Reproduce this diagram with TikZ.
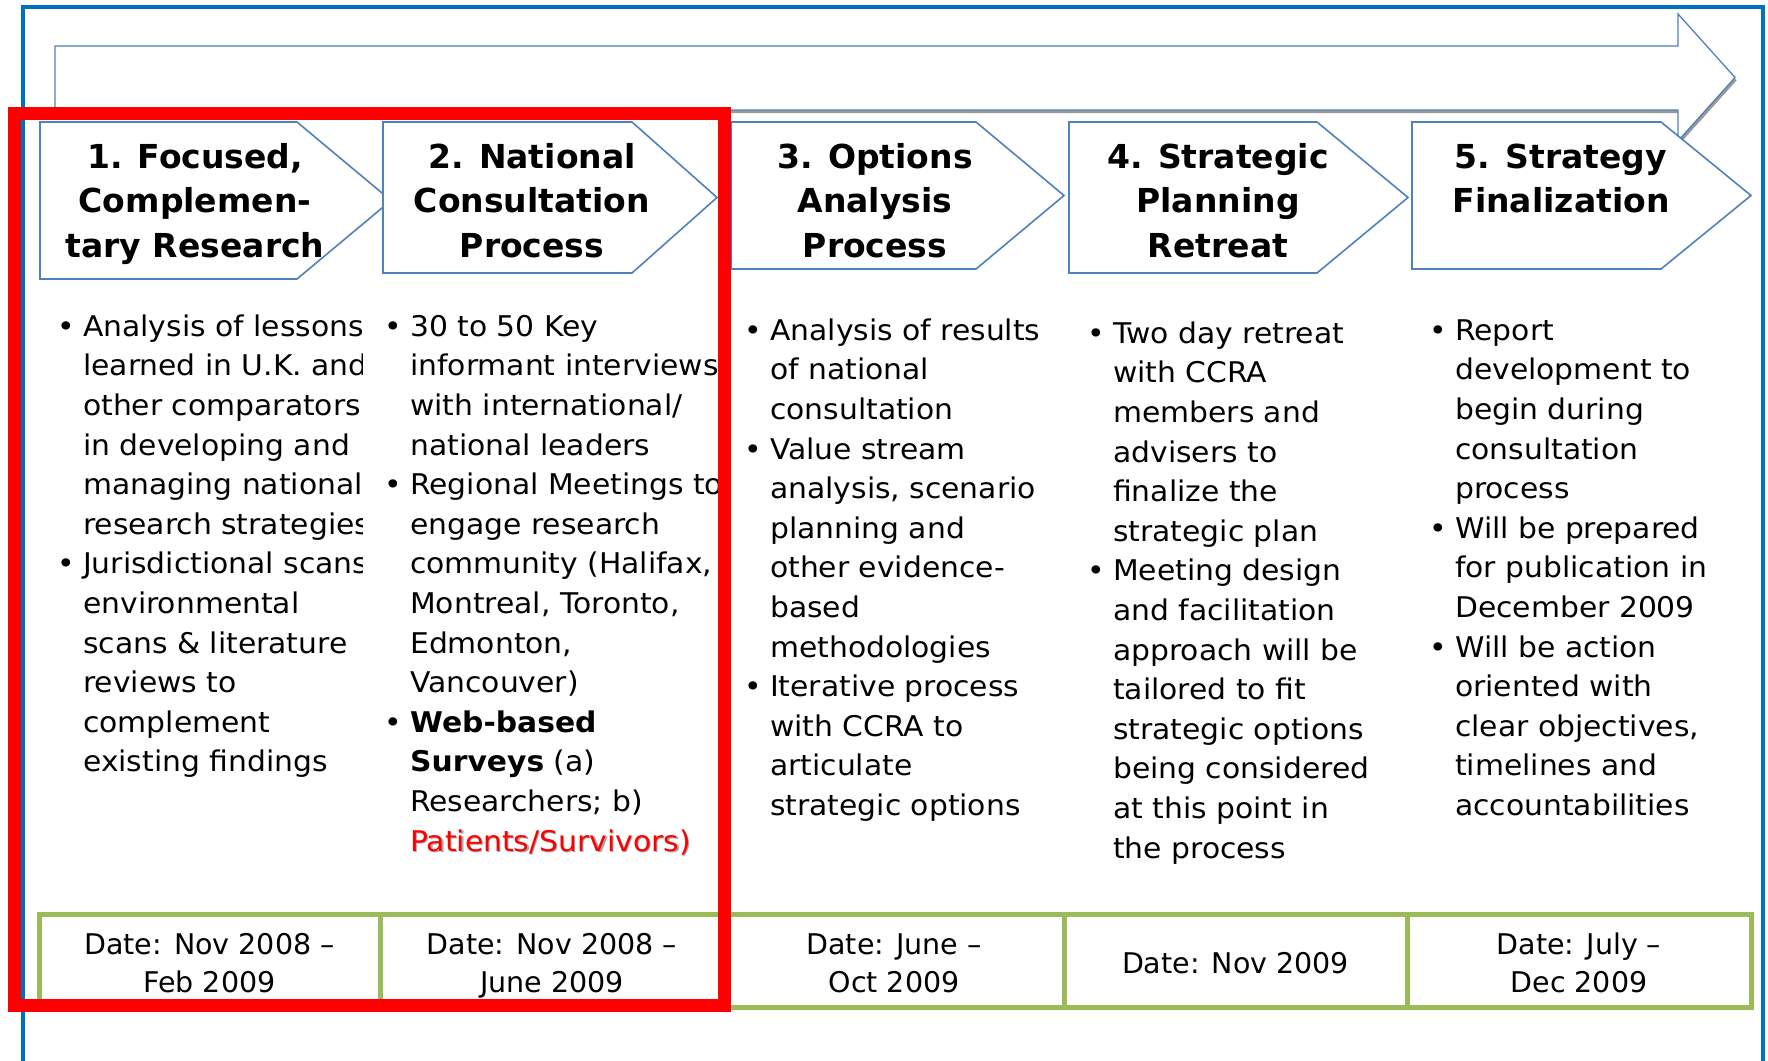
\documentclass[tikz,border=0pt]{standalone}
\usepackage{fontspec}
\setmainfont{DejaVu Sans}
\newfontfamily\bodyfont{DejaVu Sans}[FakeStretch=1.045]
\definecolor{frameblue}{RGB}{0,112,192}
\definecolor{chevblue}{RGB}{79,129,189}
\definecolor{dgreen}{RGB}{155,187,89}
\newcommand{\bul}{\makebox[23pt][l]{\hspace{-3pt}•}}
\newcommand{\ind}{\hspace*{23pt}}
\newcommand{\fst}{\rule{0pt}{24pt}}
\newcommand{\tst}{\rule{0pt}{27pt}}
\newcommand{\dsa}{\rule[-6pt]{0pt}{36.6pt}}
\newcommand{\dst}{\rule[-6pt]{0pt}{32pt}}
\newcommand{\shd}[1]{\makebox[0pt][l]{\hspace{1.5pt}\raisebox{-1.5pt}{\textcolor{black!35}{#1}}}\textcolor{red}{#1}}
\tikzset{
  chev/.style={draw=chevblue, fill=white, line width=1.6pt},
  ttl/.style={font=\fontsize{33}{44.5}\selectfont\bfseries, align=center, inner sep=0pt, anchor=north},
  body/.style={font=\bodyfont\fontsize{28.5}{39.6}\selectfont, align=left, inner sep=0pt, anchor=north west},
  datebox/.style={draw=dgreen, line width=5pt, fill=white, minimum height=93pt, align=center,
    font=\fontsize{28.5}{38.3}\selectfont, inner sep=0pt},
}
\begin{document}
\begin{tikzpicture}[x=1pt,y=-1pt]
\useasboundingbox (0,0) rectangle (1768,1060);
\clip (0,0) rectangle (1768,1060);
\fill[white] (0,0) rectangle (1768,1060);
% outer frame
\draw[frameblue, line width=4.5pt] (23,7) rectangle (1763,1100);
% big arrow (shadow + arrow)
\fill[black!40] ([shift={(1.5,3)}]55,46) -- ++(1623,0) -- ++(0,-32) -- ++(57,63.5) -- ++(-57,63.5) -- ++(0,-31) -- ++(-1623,0) -- cycle;
\path[draw=chevblue, fill=white, line width=1.3pt] (55,46) -- (1678,46) -- (1678,14) -- (1735,77.5) -- (1678,141) -- (1678,110) -- (55,110) -- cycle;
% chevrons
\draw[chev] (40,122) -- (297,122) -- (391,200.5) -- (297,279) -- (40,279) -- cycle;
\draw[chev] (383,122) -- (632,122) -- (717,197.5) -- (632,273) -- (383,273) -- cycle;
\draw[chev] (731,122) -- (976,122) -- (1064,195.5) -- (976,269) -- (731,269) -- cycle;
\draw[chev] (1069,122) -- (1317,122) -- (1408,197.5) -- (1317,273) -- (1069,273) -- cycle;
\draw[chev] (1412,122) -- (1661,122) -- (1751,195.5) -- (1661,269) -- (1412,269) -- cycle;
% titles
\node[ttl] (t1) at (195,141) {\tst 1. Focused,\\Complemen-\\tary Research};
\node[ttl] (t2) at (532,141) {\tst 2. National\\Consultation\\Process};
\node[ttl] (t3) at (875,141) {\tst 3. Options\\Analysis\\Process};
\node[ttl] (t4) at (1218,141) {\tst 4. Strategic\\Planning\\Retreat};
\node[ttl] (t5) at (1561,141) {\tst 5. Strategy\\Finalization};
% body text
\begin{scope}
\clip (40,290) rectangle (362,820);
\node[body] (b1) at (60,312) {\fst\bul Analysis of lessons\\
\ind learned in U.K. and\\
\ind other comparators\\
\ind in developing and\\
\ind managing national\\
\ind research strategies\\
\bul Jurisdictional scans,\\
\ind environmental\\
\ind scans \& literature\\
\ind reviews to\\
\ind complement\\
\ind existing findings};
\end{scope}
\begin{scope}
\clip (362,290) rectangle (724,900);
\node[body] (b2) at (387,312) {\fst\bul 30 to 50 Key\\
\ind informant interviews\\
\ind with international/\\
\ind national leaders\\
\bul Regional Meetings to\\
\ind engage research\\
\ind community (Halifax,\\
\ind Montreal, Toronto,\\
\ind Edmonton,\\
\ind Vancouver)\\
\bul \textbf{Web-based}\\
\ind \textbf{Surveys} (a)\\
\ind Researchers; b)\\
\ind \shd{Patients/Survivors)}};
\end{scope}
\node[body] (b3) at (747,316) {\fst\bul Analysis of results\\
\ind of national\\
\ind consultation\\
\bul Value stream\\
\ind analysis, scenario\\
\ind planning and\\
\ind other evidence-\\
\ind based\\
\ind methodologies\\
\bul Iterative process\\
\ind with CCRA to\\
\ind articulate\\
\ind strategic options};
\node[body] (b4) at (1090,319) {\fst\bul Two day retreat\\
\ind with CCRA\\
\ind members and\\
\ind advisers to\\
\ind finalize the\\
\ind strategic plan\\
\bul Meeting design\\
\ind and facilitation\\
\ind approach will be\\
\ind tailored to fit\\
\ind strategic options\\
\ind being considered\\
\ind at this point in\\
\ind the process};
\node[body] (b5) at (1432,316) {\fst\bul Report\\
\ind development to\\
\ind begin during\\
\ind consultation\\
\ind process\\
\bul Will be prepared\\
\ind for publication in\\
\ind December 2009\\
\bul Will be action\\
\ind oriented with\\
\ind clear objectives,\\
\ind timelines and\\
\ind accountabilities};
% date boxes
\node[datebox, minimum width=341pt] (d1) at (209.5,961) {\dsa Date: Nov 2008 –\\\dst Feb 2009};
\node[datebox, minimum width=344pt] (d2) at (552,961) {\dsa Date: Nov 2008 –\\\dst June 2009};
\node[datebox, minimum width=340pt] (d3) at (894,961) {\dsa Date: June –\\\dst Oct 2009};
\node[datebox, minimum width=343pt] (d4) at (1235.5,961) {\dsa Date: Nov 2009};
\node[datebox, minimum width=344pt] (d5) at (1579,961) {\dsa Date: July –\\\dst Dec 2009};
% red highlight
\draw[red, line width=13pt] (14,113) rectangle (724,1005);
\end{tikzpicture}
\end{document}
